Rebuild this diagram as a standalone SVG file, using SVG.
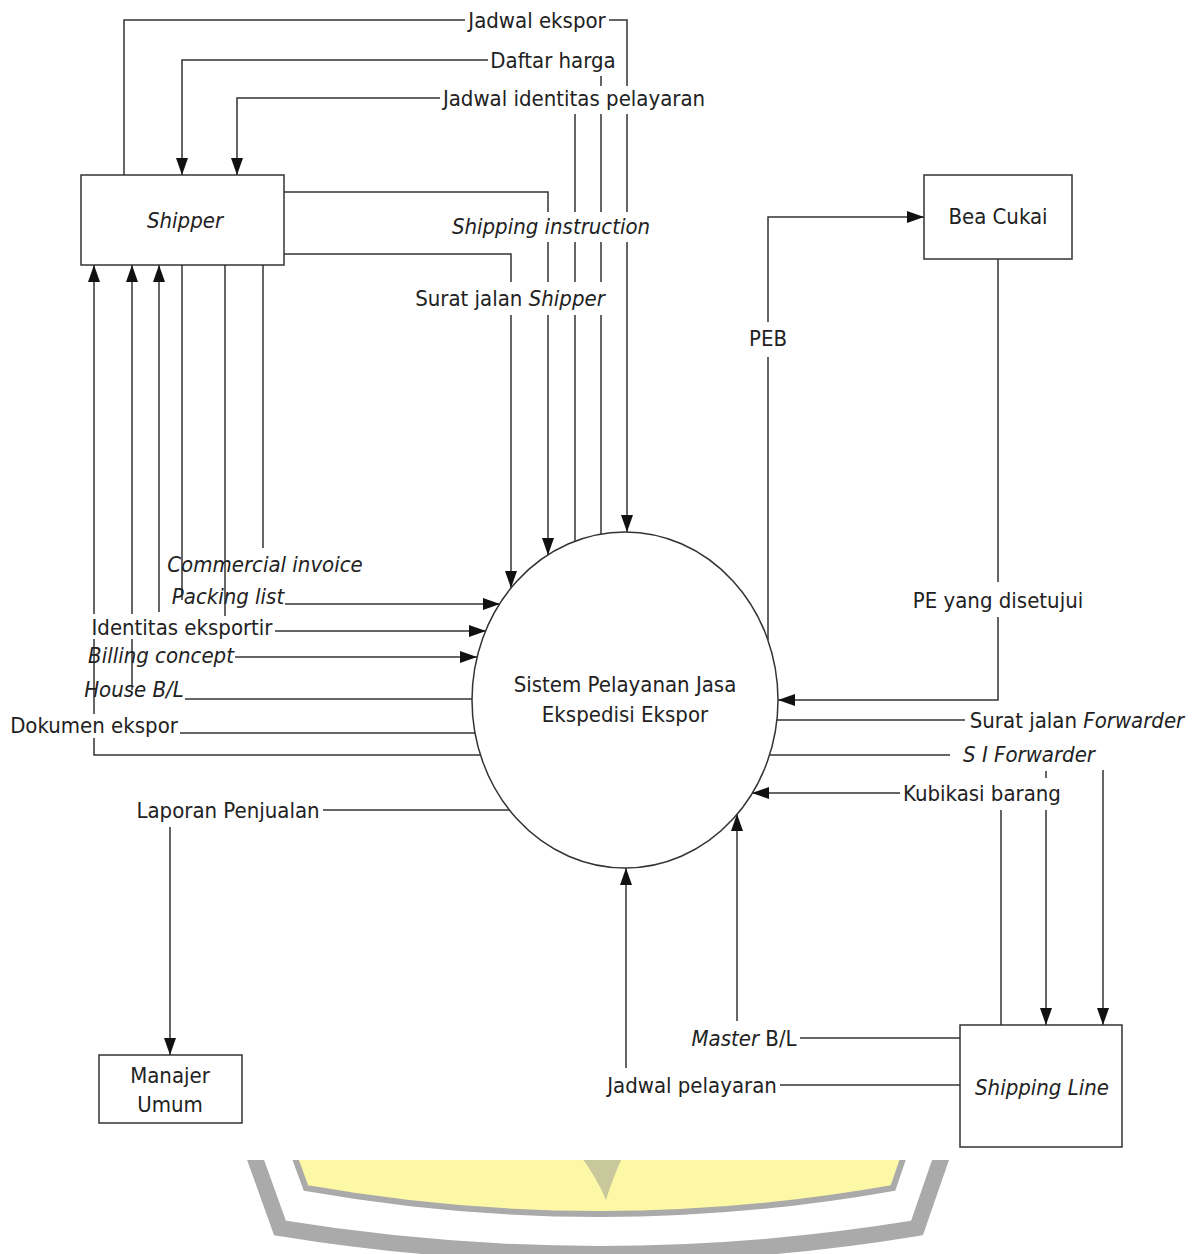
<svg xmlns="http://www.w3.org/2000/svg" width="1196" height="1254" viewBox="0 0 1196 1254">
<defs>
<style>
.ln{fill:none;stroke:#333;stroke-width:1.5}
.box{fill:#fff;stroke:#333;stroke-width:1.5}
.t{font-family:'DejaVu Sans Condensed','DejaVu Sans',sans-serif;font-stretch:condensed;font-size:22px;fill:#222;text-anchor:middle}
.i{font-style:italic}
</style>
<marker id="ah" viewBox="0 0 17 12" refX="17" refY="6" markerWidth="17" markerHeight="12" markerUnits="userSpaceOnUse" orient="auto"><path d="M0,0 L17,6 L0,12 z" fill="#111"/></marker>
<clipPath id="wm"><rect x="0" y="1160" width="1196" height="94"/></clipPath>
</defs>
<rect width="1196" height="1254" fill="#fff"/>
<g id="watermark" clip-path="url(#wm)">
<path d="M252,1150 L280,1228 Q600,1280 917,1228 L944,1150" fill="none" stroke="#aaa" stroke-width="16"/>
<path d="M292,1150 L306,1188 Q600,1240 893,1188 L906,1150 Z" fill="#fdf8a6" stroke="#aaa" stroke-width="6"/>
<path d="M582,1158 L622,1158 Q612,1180 606,1200 Q598,1180 582,1158 Z" fill="#c9c79c"/>
</g>
<g id="connectors">
<!-- Jadwal ekspor -->
<polyline class="ln" points="124,175 124,20 465,20"/>
<polyline class="ln" points="609,20 627,20 627,86"/>
<line class="ln" x1="627" y1="114" x2="627" y2="212"/>
<line class="ln" x1="627" y1="242" x2="627" y2="532" marker-end="url(#ah)"/>
<!-- Daftar harga -->
<polyline class="ln" points="488,60 182,60 182,175" marker-end="url(#ah)"/>
<line class="ln" x1="601" y1="76" x2="601" y2="86"/>
<line class="ln" x1="601" y1="114" x2="601" y2="212"/>
<line class="ln" x1="601" y1="242" x2="601" y2="282"/>
<line class="ln" x1="601" y1="315" x2="601" y2="534"/>
<!-- Jadwal identitas pelayaran -->
<polyline class="ln" points="440,98 237,98 237,175" marker-end="url(#ah)"/>
<line class="ln" x1="575" y1="114" x2="575" y2="212"/>
<line class="ln" x1="575" y1="242" x2="575" y2="282"/>
<line class="ln" x1="575" y1="315" x2="575" y2="541"/>
<!-- Shipping instruction -->
<polyline class="ln" points="284,192 548,192 548,212"/>
<line class="ln" x1="548" y1="242" x2="548" y2="282"/>
<line class="ln" x1="548" y1="315" x2="548" y2="555" marker-end="url(#ah)"/>
<!-- Surat jalan Shipper -->
<polyline class="ln" points="284,254 511,254 511,282"/>
<line class="ln" x1="511" y1="315" x2="511" y2="588" marker-end="url(#ah)"/>
<!-- left verticals -->
<polyline class="ln" points="480,755 94,755 94,738"/>
<line class="ln" x1="94" y1="714" x2="94" y2="639"/>
<line class="ln" x1="94" y1="614" x2="94" y2="265" marker-end="url(#ah)"/>
<line class="ln" x1="132" y1="690" x2="132" y2="639"/>
<line class="ln" x1="132" y1="614" x2="132" y2="265" marker-end="url(#ah)"/>
<line class="ln" x1="185" y1="699" x2="472" y2="699"/>
<line class="ln" x1="159" y1="612" x2="159" y2="265" marker-end="url(#ah)"/>
<line class="ln" x1="180" y1="733" x2="475" y2="733"/>
<line class="ln" x1="182" y1="265" x2="182" y2="600"/>
<line class="ln" x1="285" y1="604" x2="500" y2="604" marker-end="url(#ah)"/>
<line class="ln" x1="225" y1="265" x2="225" y2="616"/>
<line class="ln" x1="275" y1="631" x2="486" y2="631" marker-end="url(#ah)"/>
<line class="ln" x1="263" y1="265" x2="263" y2="548"/>
<line class="ln" x1="235" y1="657" x2="477" y2="657" marker-end="url(#ah)"/>
<!-- Laporan Penjualan -->
<line class="ln" x1="509" y1="810" x2="323" y2="810"/>
<line class="ln" x1="170" y1="827" x2="170" y2="1055" marker-end="url(#ah)"/>
<!-- PEB -->
<polyline class="ln" points="768,640 768,357"/>
<polyline class="ln" points="768,322 768,217 924,217" marker-end="url(#ah)"/>
<!-- PE yang disetujui -->
<line class="ln" x1="998" y1="259" x2="998" y2="582"/>
<polyline class="ln" points="998,617 998,700 778,700" marker-end="url(#ah)"/>
<!-- Surat jalan Forwarder -->
<line class="ln" x1="777" y1="720" x2="965" y2="720"/>
<line class="ln" x1="1046" y1="771" x2="1046" y2="778"/>
<line class="ln" x1="1046" y1="810" x2="1046" y2="1025" marker-end="url(#ah)"/>
<!-- S I Forwarder -->
<line class="ln" x1="770" y1="755" x2="950" y2="755"/>
<line class="ln" x1="1103" y1="770" x2="1103" y2="1025" marker-end="url(#ah)"/>
<!-- Kubikasi barang -->
<line class="ln" x1="1001" y1="1025" x2="1001" y2="810"/>
<line class="ln" x1="900" y1="793" x2="752" y2="793" marker-end="url(#ah)"/>
<!-- Master B/L -->
<line class="ln" x1="960" y1="1038" x2="800" y2="1038"/>
<line class="ln" x1="737" y1="1021" x2="737" y2="814" marker-end="url(#ah)"/>
<!-- Jadwal pelayaran -->
<line class="ln" x1="960" y1="1085" x2="780" y2="1085"/>
<line class="ln" x1="626" y1="1068" x2="626" y2="868" marker-end="url(#ah)"/>
</g>
<g id="labels">
<text class="t" x="537" y="28">Jadwal ekspor</text>
<text class="t" x="553" y="68">Daftar harga</text>
<text class="t" x="574" y="106">Jadwal identitas pelayaran</text>
<text class="t i" x="551" y="234">Shipping instruction</text>
<text class="t" x="510" y="306">Surat jalan <tspan font-style="italic">Shipper</tspan></text>
<text class="t i" x="265" y="572">Commercial invoice</text>
<text class="t i" x="228" y="604">Packing list</text>
<text class="t" x="182" y="635">Identitas eksportir</text>
<text class="t i" x="161" y="663">Billing concept</text>
<text class="t i" x="134" y="697">House B/L</text>
<text class="t" x="94" y="733">Dokumen ekspor</text>
<text class="t" x="228" y="818">Laporan Penjualan</text>
<text class="t" x="768" y="346">PEB</text>
<text class="t" x="998" y="608">PE yang disetujui</text>
<text class="t" x="1077" y="728">Surat jalan <tspan font-style="italic">Forwarder</tspan></text>
<text class="t i" x="1029" y="762">S I Forwarder</text>
<text class="t" x="982" y="801">Kubikasi barang</text>
<text class="t" x="744" y="1046"><tspan font-style="italic">Master</tspan> B/L</text>
<text class="t" x="692" y="1093">Jadwal pelayaran</text>
</g>
<g id="shipper">
<rect class="box" x="81" y="175" width="203" height="90"/>
<text class="t i" x="185" y="228">Shipper</text>
</g>
<g id="bea-cukai">
<rect class="box" x="924" y="175" width="148" height="84"/>
<text class="t" x="998" y="224">Bea Cukai</text>
</g>
<g id="manajer-umum">
<rect class="box" x="99" y="1055" width="143" height="68"/>
<text class="t" x="170" y="1083">Manajer</text>
<text class="t" x="170" y="1112">Umum</text>
</g>
<g id="shipping-line">
<rect class="box" x="960" y="1025" width="162" height="122"/>
<text class="t i" x="1042" y="1095">Shipping Line</text>
</g>
<g id="sistem">
<ellipse cx="625" cy="700" rx="153" ry="168" fill="none" stroke="#333" stroke-width="1.5"/>
<text class="t" x="625" y="692">Sistem Pelayanan Jasa</text>
<text class="t" x="625" y="722">Ekspedisi Ekspor</text>
</g>
</svg>
